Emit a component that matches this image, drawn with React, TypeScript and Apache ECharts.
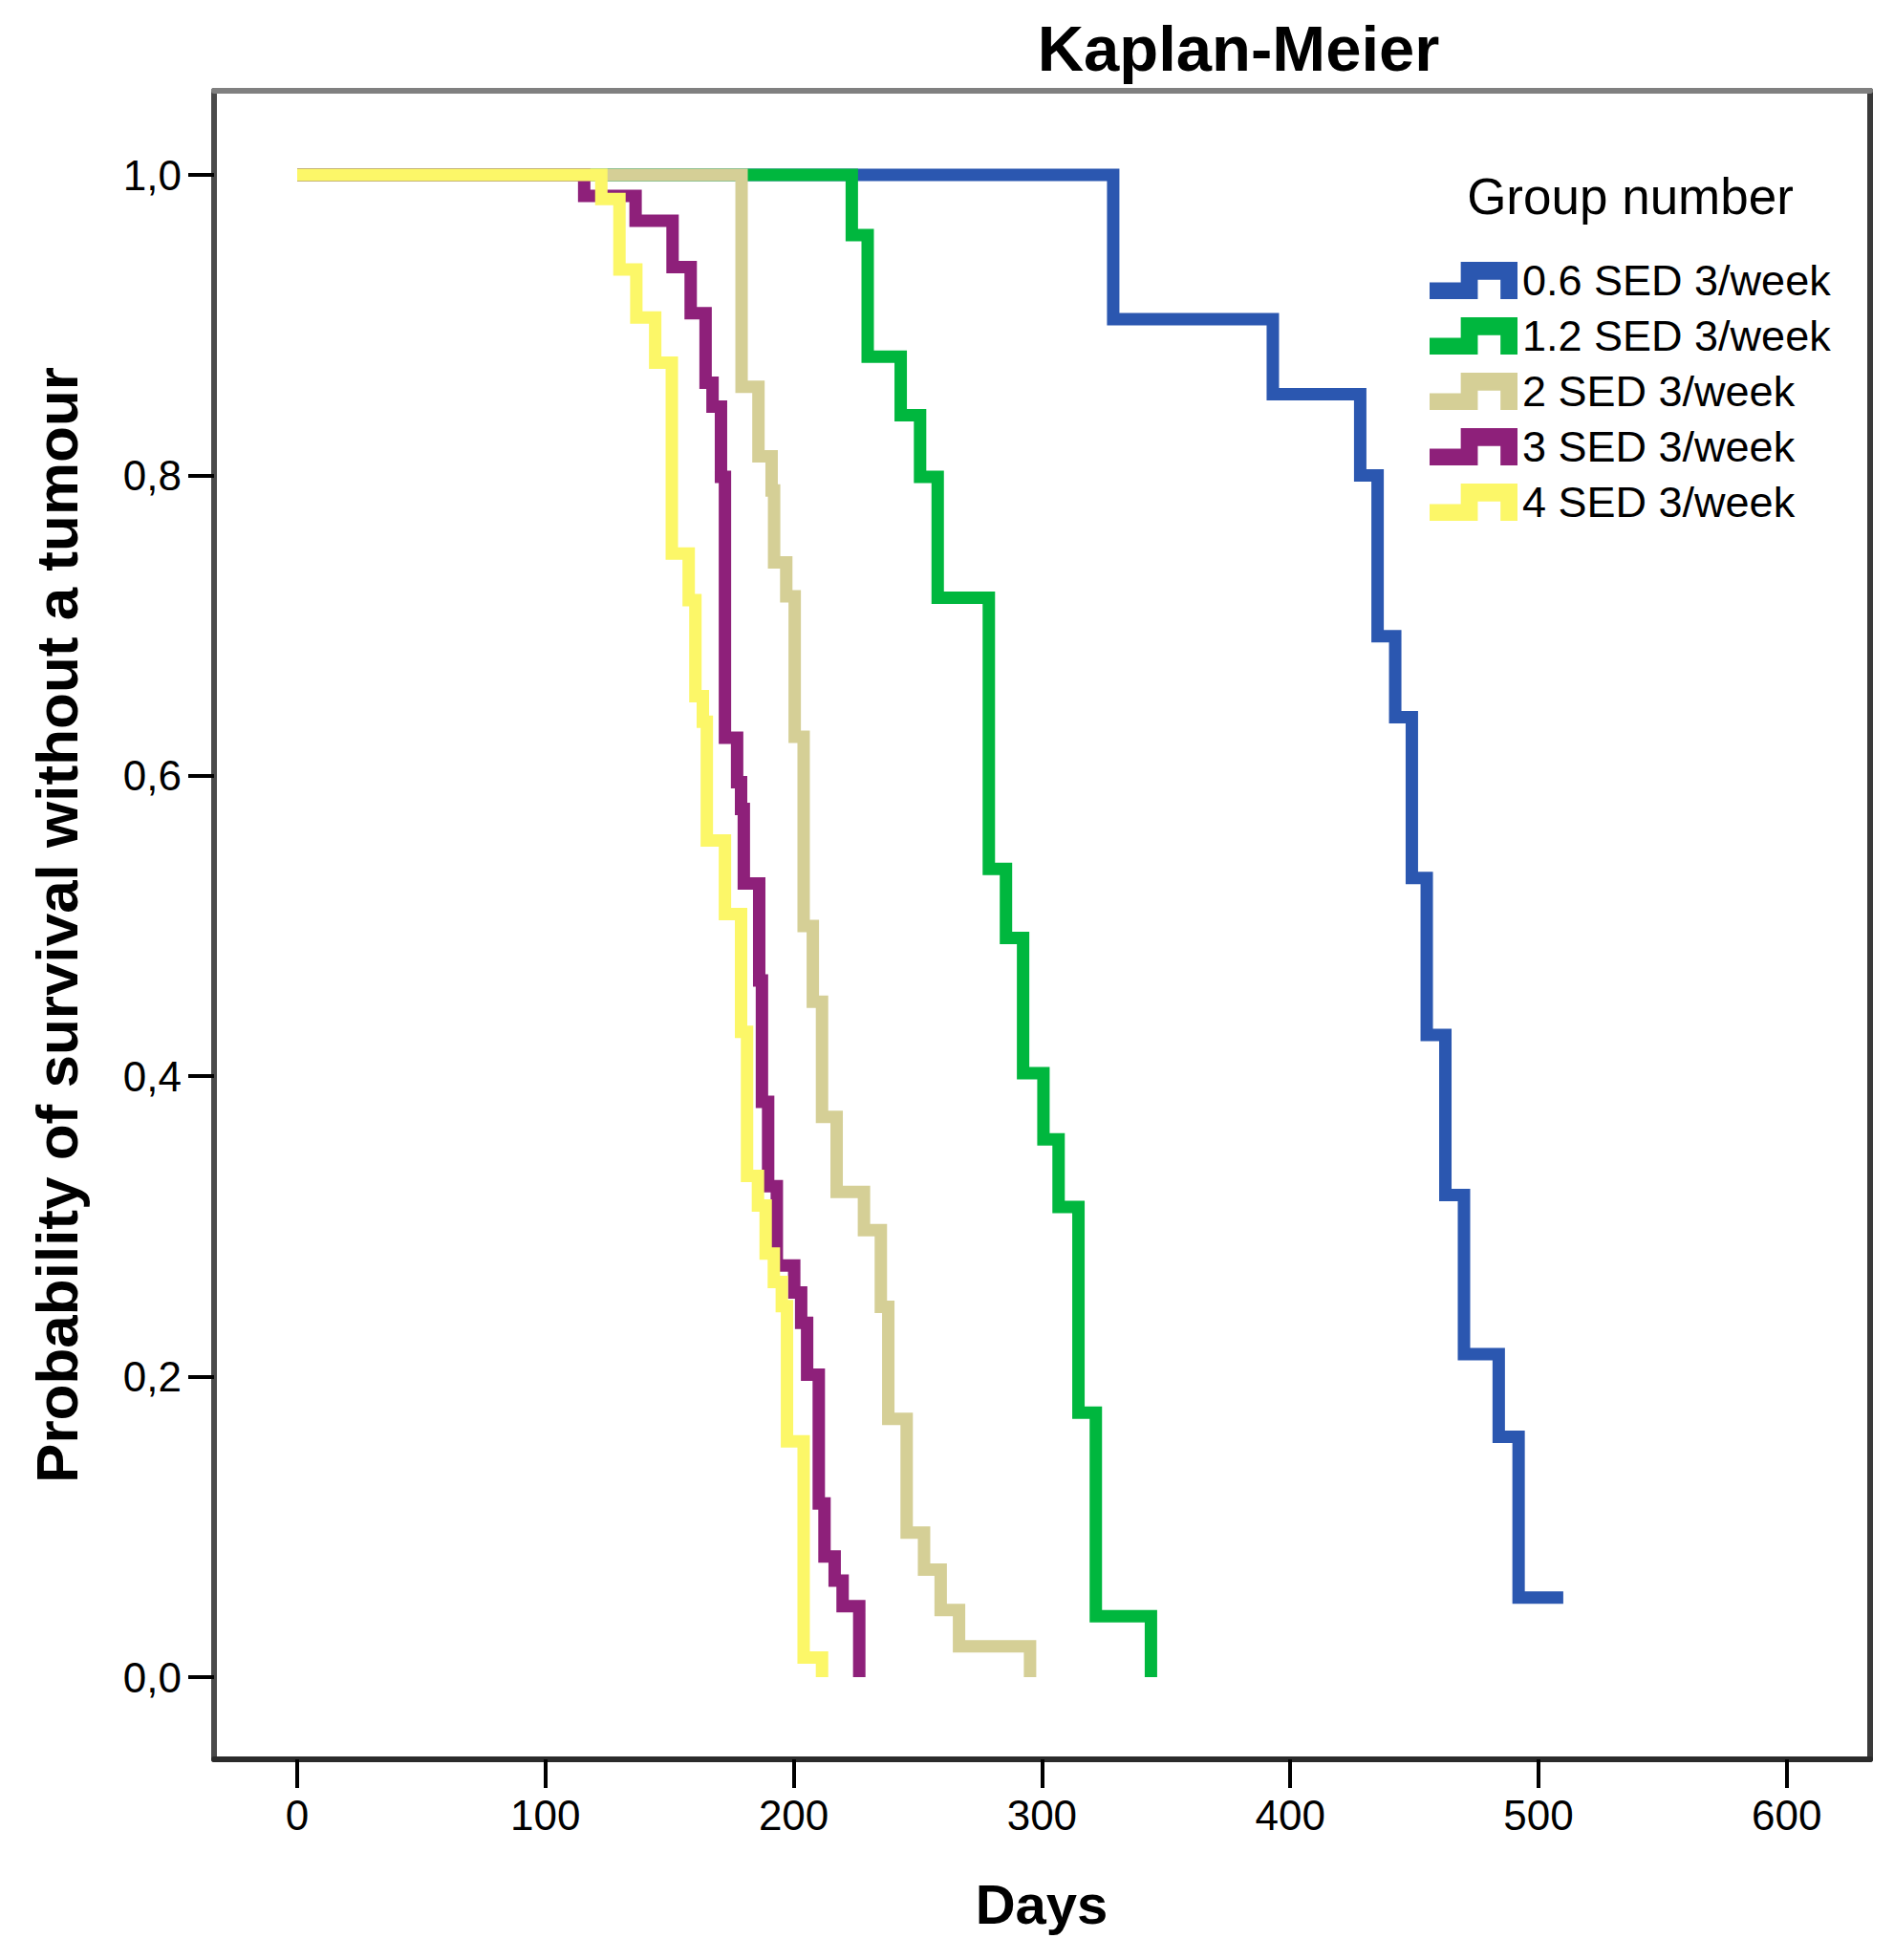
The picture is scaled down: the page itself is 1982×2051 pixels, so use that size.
import React, { useEffect, useRef } from "react";
import * as echarts from "echarts";

// ---- data (days, survival probability) ----
const groupNames = [
  "0.6 SED 3/week",
  "1.2 SED 3/week",
  "2 SED 3/week",
  "3 SED 3/week",
  "4 SED 3/week",
];
const groupColors = ["#2B57B0", "#00B73E", "#D5CF96", "#8E207A", "#FCF768"];

const g06Days = [0, 328.7, 393, 428.2, 435.2, 442.3, 449, 455, 462.5, 470, 484, 492, 510];
const g06Surv = [1, 0.904, 0.854, 0.8, 0.693, 0.639, 0.532, 0.4275, 0.321, 0.215, 0.16, 0.053, 0.053];

const g12Days = [0, 223.4, 229.8, 243.1, 250.9, 258.0, 278.6, 285.5, 292.4, 300.6, 306.7, 314.7, 321.7, 343.9];
const g12Surv = [1, 0.96, 0.879, 0.84, 0.799, 0.7185, 0.538, 0.492, 0.402, 0.358, 0.313, 0.176, 0.0405, 0];

const g2Days = [0, 179.0, 185.8, 191.1, 192.1, 197.0, 200.4, 204.0, 207.7, 211.4, 217.3, 228.3, 235.1, 238.1, 245.5, 252.5, 259.2, 266.6, 295.2];
const g2Surv = [1, 0.859, 0.8126, 0.79, 0.742, 0.7195, 0.626, 0.5, 0.4496, 0.373, 0.323, 0.2976, 0.2465, 0.172, 0.0963, 0.0716, 0.0447, 0.0205, 0];

const g3Days = [0, 115.6, 136.3, 151.2, 158.5, 164.5, 167.3, 170.7, 172.3, 177.2, 178.8, 179.9, 186.1, 187.2, 189.7, 193.2, 200.2, 203.0, 205.4, 210.1, 212.4, 216.5, 219.7, 226.4];
const g3Surv = [1, 0.986, 0.9695, 0.9386, 0.908, 0.8617, 0.8457, 0.799, 0.6254, 0.5957, 0.578, 0.5284, 0.4638, 0.383, 0.3268, 0.274, 0.256, 0.2358, 0.2013, 0.1157, 0.0803, 0.0643, 0.0472, 0];

const g4Days = [0, 122.5, 129.8, 136.6, 144.2, 150.9, 157.7, 160.4, 163.4, 165.0, 172.3, 178.8, 181.2, 185.6, 188.7, 192.0, 195.2, 197.3, 204.0, 211.4];
const g4Surv = [1, 0.984, 0.937, 0.905, 0.875, 0.748, 0.717, 0.653, 0.636, 0.557, 0.508, 0.4295, 0.3336, 0.314, 0.282, 0.263, 0.247, 0.157, 0.013, 0];

const groupDays = [g06Days, g12Days, g2Days, g3Days, g4Days];
const groupSurv = [g06Surv, g12Surv, g2Surv, g3Surv, g4Surv];

const xTickValues = [0, 100, 200, 300, 400, 500, 600];
const yTickValues = [0, 0.2, 0.4, 0.6, 0.8, 1.0];

const chartTitle = "Kaplan-Meier";
const xTitle = "Days";
const yTitle = "Probability of survival without a tumour";
const legendTitle = "Group number";

const FONT = "'Liberation Sans', Arial, sans-serif";
const LEGEND_ICON =
  "path://M0,37 L55,37 L55,0 L155,0 L155,67 L125,67 L125,32 L85,32 L85,67 L0,67 Z";

export default function App() {
  const ref = useRef<HTMLDivElement>(null);

  useEffect(() => {
    document.body.style.margin = "0";
    const chart = echarts.init(ref.current!, null, { renderer: "svg" });

    const X_MIN = -33.5;
    const X_MAX = 633.6;
    const Y_MIN = -0.0547;
    const Y_MAX = 1.056;

    const series = groupNames.map((name, i) => ({
      name,
      type: "line",
      step: "end",
      symbol: "none",
      xAxisIndex: 0,
      yAxisIndex: 0,
      data: groupDays[i].map((d, k) => [d, groupSurv[i][k]]),
      itemStyle: { color: groupColors[i] },
      lineStyle: { color: groupColors[i], width: 13, cap: "butt", join: "miter" },
      emphasis: { disabled: true },
      z: 3 + i,
    }));

    const option: any = {
      animation: false,
      backgroundColor: "#ffffff",
      grid: { left: 224, right: 25, top: 95, bottom: 210, show: false },
      xAxis: [
        {
          type: "value",
          position: "bottom",
          min: X_MIN,
          max: X_MAX,
          axisLine: { show: true, onZero: false, lineStyle: { color: "#2b2b2b", width: 6 } },
          axisTick: { show: true, customValues: xTickValues, length: 30, lineStyle: { color: "#000", width: 4 } },
          axisLabel: { customValues: xTickValues, fontSize: 44, margin: 36, color: "#000", fontFamily: FONT },
          splitLine: { show: false },
        },
        {
          type: "value",
          position: "top",
          min: X_MIN,
          max: X_MAX,
          axisLine: { show: true, onZero: false, lineStyle: { color: "#808080", width: 6 } },
          axisTick: { show: false },
          axisLabel: { show: false },
          splitLine: { show: false },
        },
      ],
      yAxis: [
        {
          type: "value",
          position: "left",
          min: Y_MIN,
          max: Y_MAX,
          axisLine: { show: true, onZero: false, lineStyle: { color: "#4a4a4a", width: 6 } },
          axisTick: { show: true, customValues: yTickValues, length: 27, lineStyle: { color: "#000", width: 4 } },
          axisLabel: {
            customValues: yTickValues,
            fontSize: 44,
            margin: 34,
            color: "#000",
            fontFamily: FONT,
            formatter: (v: number) => v.toFixed(1).replace(".", ","),
          },
          splitLine: { show: false },
        },
        {
          type: "value",
          position: "right",
          min: Y_MIN,
          max: Y_MAX,
          axisLine: { show: true, onZero: false, lineStyle: { color: "#3a3a3a", width: 6 } },
          axisTick: { show: false },
          axisLabel: { show: false },
          splitLine: { show: false },
        },
      ],
      legend: {
        orient: "vertical",
        left: 1496,
        top: 271,
        padding: 0,
        itemWidth: 92,
        itemHeight: 39,
        itemGap: 13,
        symbolKeepAspect: false,
        selectedMode: false,
        itemStyle: { borderWidth: 0 },
        textStyle: { fontSize: 45, color: "#000", fontFamily: FONT, lineHeight: 39 },
        data: groupNames.map((name) => ({ name, icon: LEGEND_ICON })),
      },
      graphic: [
        {
          type: "text",
          x: 1296,
          y: 50,
          style: {
            text: chartTitle,
            font: `bold 67px ${FONT}`,
            fill: "#000",
            align: "center",
            verticalAlign: "middle",
          },
        },
        {
          type: "text",
          x: 1706,
          y: 205,
          style: {
            text: legendTitle,
            font: `53px ${FONT}`,
            fill: "#000",
            align: "center",
            verticalAlign: "middle",
          },
        },
        {
          type: "text",
          x: 1090,
          y: 1992,
          style: {
            text: xTitle,
            font: `bold 58px ${FONT}`,
            fill: "#000",
            align: "center",
            verticalAlign: "middle",
          },
        },
        {
          type: "text",
          x: 59,
          y: 968,
          rotation: Math.PI / 2,
          style: {
            text: yTitle,
            font: `bold 62px ${FONT}`,
            fill: "#000",
            align: "center",
            verticalAlign: "middle",
          },
        },
      ],
      series,
    };

    chart.setOption(option);
    return () => chart.dispose();
  }, []);

  return <div ref={ref} style={{ width: 1982, height: 2051, background: "#fff" }} />;
}
